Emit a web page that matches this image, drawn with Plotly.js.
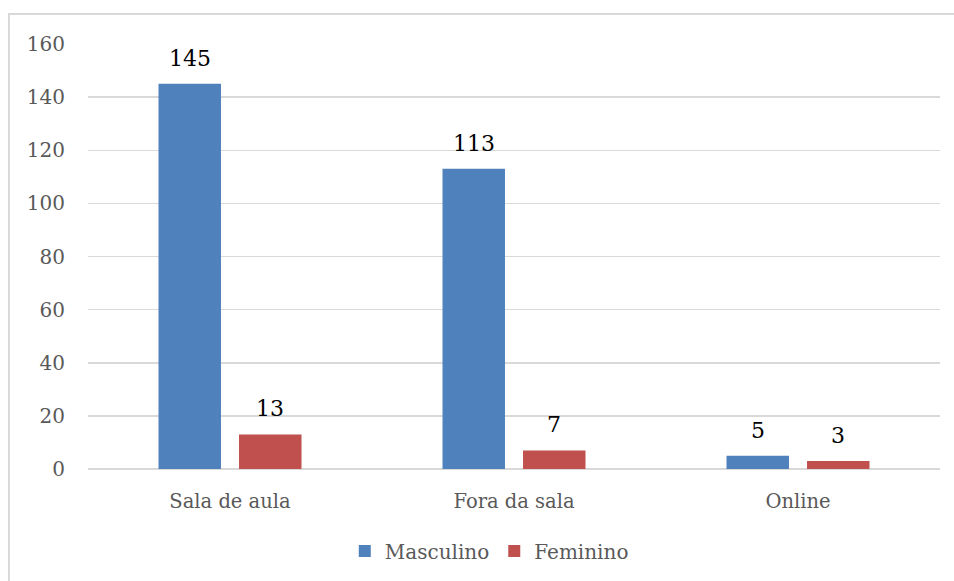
<!DOCTYPE html>
<html>
<head>
<meta charset="utf-8">
<script src="https://cdn.plot.ly/plotly-3.0.1.min.js"></script>
<style>
  html, body { margin: 0; padding: 0; background: #ffffff; }
  #wrap { position: relative; width: 954px; height: 581px; }
  #chart { position: absolute; left: 0; top: 0; width: 954px; height: 581px; }
  #frame { position: absolute; left: 8px; top: 13px; width: 946px; height: 568px;
           border-top: 2px solid #d9d9d9; border-left: 2px solid #d9d9d9; pointer-events: none; }
</style>
</head>
<body>
<div id="wrap">
  <div id="chart"></div>
  <div id="frame"></div>
</div>
<script>
const categories = ["Sala de aula", "Fora da sala", "Online"];
const masculino = [145, 113, 5];
const feminino = [13, 7, 3];
const seriesNames = ["Masculino", "Feminino"];
const yTicks = [0, 20, 40, 60, 80, 100, 120, 140, 160];

const fontFam = "DejaVu Serif, serif";
const blue = "#4F81BD";
const red = "#C0504D";

const traces = [
  { type: "bar", name: seriesNames[0], x: categories, y: masculino,
    marker: { color: blue }, hoverinfo: "none" },
  { type: "bar", name: seriesNames[1], x: categories, y: feminino,
    marker: { color: red }, hoverinfo: "none" }
];

const annotations = [];
categories.forEach((c, i) => {
  annotations.push({ x: c, y: masculino[i], xref: "x", yref: "y", text: String(masculino[i]),
    showarrow: false, xshift: -40, yshift: 11, yanchor: "bottom",
    font: { family: fontFam, size: 22, color: "#000000" } });
  annotations.push({ x: c, y: feminino[i], xref: "x", yref: "y", text: String(feminino[i]),
    showarrow: false, xshift: 40, yshift: 11, yanchor: "bottom",
    font: { family: fontFam, size: 22, color: "#000000" } });
});

const layout = {
  width: 954, height: 581,
  margin: { l: 88, r: 14, t: 44, b: 111 },
  paper_bgcolor: "rgba(0,0,0,0)",
  plot_bgcolor: "#ffffff",
  barmode: "group",
  bargap: 0.433,
  bargroupgap: 0.224,
  showlegend: true,
  legend: { orientation: "h", x: 0.471, xanchor: "center", y: -0.19, yanchor: "middle",
            font: { family: fontFam, size: 20, color: "#595959" }, traceorder: "normal",
            itemwidth: 30 },
  xaxis: { type: "category", showgrid: false, showline: false, zeroline: false,
           ticks: "outside", ticklen: 15, tickcolor: "rgba(0,0,0,0)",
           tickfont: { family: fontFam, size: 19.5, color: "#595959" } },
  yaxis: { range: [0, 160], tickvals: yTicks, ticktext: yTicks.map(String),
           showgrid: true, gridcolor: "#d9d9d9", gridwidth: 1.5,
           zeroline: true, zerolinecolor: "#d9d9d9", zerolinewidth: 2,
           showline: false, ticks: "outside", ticklen: 18, tickcolor: "rgba(0,0,0,0)",
           tickfont: { family: fontFam, size: 20, color: "#595959" } },
  annotations: annotations
};

Plotly.newPlot("chart", traces, layout, { displayModeBar: false, staticPlot: true });
</script>
</body>
</html>
